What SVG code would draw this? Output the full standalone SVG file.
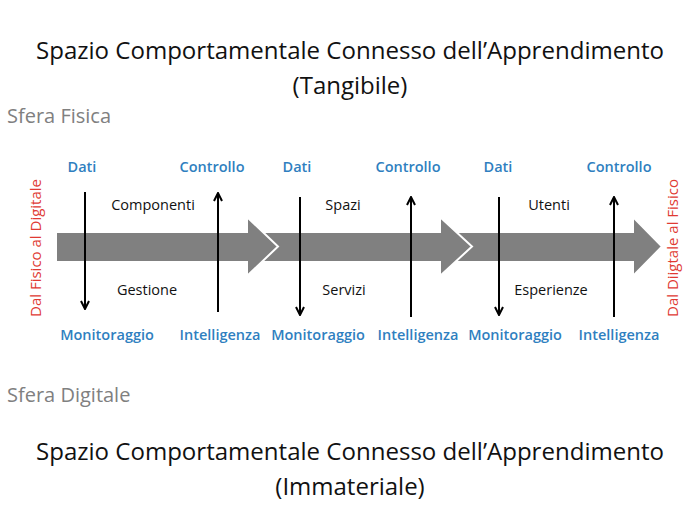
<svg xmlns="http://www.w3.org/2000/svg" width="700" height="525" viewBox="0 0 700 525">
<style>
.title{font-family:"Open Sans","Liberation Sans",sans-serif;font-size:24px;fill:#111;text-anchor:middle}
.sphere{font-family:"Open Sans","Liberation Sans",sans-serif;font-size:20px;fill:#808080}
.blue{font-family:"Open Sans","Liberation Sans",sans-serif;font-size:14.5px;font-weight:600;fill:#2f7fc0;text-anchor:middle}
.blk{font-family:"Open Sans","Liberation Sans",sans-serif;font-size:14.5px;fill:#111;text-anchor:middle}
.red{font-family:"Open Sans","Liberation Sans",sans-serif;font-size:15px;fill:#e03a33;text-anchor:middle}
.big{fill:#808080;stroke:#fff;stroke-width:2}
.vl{stroke:#000;stroke-width:2;fill:none}
</style>
<defs>
<marker id="ah" viewBox="0 0 10 10" refX="9" refY="5" markerWidth="5" markerHeight="5" orient="auto" markerUnits="strokeWidth">
<path d="M1,1 L9,5 L1,9" fill="none" stroke="#000" stroke-width="2"/>
</marker>
</defs>
<text class="title" x="350" y="59" textLength="628" lengthAdjust="spacingAndGlyphs">Spazio Comportamentale Connesso dell’Apprendimento</text>
<text class="title" x="350" y="94">(Tangibile)</text>
<text class="sphere" x="7" y="123">Sfera Fisica</text>
<text class="sphere" x="7" y="402">Sfera Digitale</text>
<text class="title" x="350" y="460" textLength="628" lengthAdjust="spacingAndGlyphs">Spazio Comportamentale Connesso dell’Apprendimento</text>
<text class="title" x="350" y="495">(Immateriale)</text>
<g id="flow">
<path class="big" d="M455,232 H633 V217 L662,246.5 L633,276 V262 H455 Z"/>
<path class="big" d="M262,232 H440 V217 L472,246.5 L440,276 V262 H262 Z"/>
<path class="big" d="M56,232 H247 V217 L278,246.5 L247,276 V262 H56 Z"/>
</g>
<g id="connectors">
<line class="vl" x1="85" y1="192" x2="85" y2="309" marker-end="url(#ah)"/>
<line class="vl" x1="218" y1="312" x2="218" y2="193" marker-end="url(#ah)"/>
<line class="vl" x1="300" y1="197" x2="300" y2="315" marker-end="url(#ah)"/>
<line class="vl" x1="411" y1="317" x2="411" y2="197" marker-end="url(#ah)"/>
<line class="vl" x1="499" y1="197" x2="499" y2="315" marker-end="url(#ah)"/>
<line class="vl" x1="614" y1="317" x2="614" y2="197" marker-end="url(#ah)"/>
</g>
<g id="labels-top">
<text class="blue" x="82" y="172">Dati</text>
<text class="blue" x="212" y="172">Controllo</text>
<text class="blue" x="297" y="172">Dati</text>
<text class="blue" x="408" y="172">Controllo</text>
<text class="blue" x="498" y="172">Dati</text>
<text class="blue" x="619" y="172">Controllo</text>
</g>
<g id="labels-bottom">
<text class="blue" x="107" y="340">Monitoraggio</text>
<text class="blue" x="220" y="340">Intelligenza</text>
<text class="blue" x="318" y="340">Monitoraggio</text>
<text class="blue" x="418" y="340">Intelligenza</text>
<text class="blue" x="515" y="340">Monitoraggio</text>
<text class="blue" x="619" y="340">Intelligenza</text>
</g>
<g id="stages">
<text class="blk" x="153" y="210">Componenti</text>
<text class="blk" x="147" y="295">Gestione</text>
<text class="blk" x="343" y="210">Spazi</text>
<text class="blk" x="344" y="295">Servizi</text>
<text class="blk" x="549" y="210">Utenti</text>
<text class="blk" x="551" y="295">Esperienze</text>
</g>
<g id="sides">
<text class="red" transform="translate(41,248) rotate(-90)">Dal Fisico al Digitale</text>
<text class="red" transform="translate(678,248) rotate(-90)">Dal Diigtale al Fisico</text>
</g>
</svg>
